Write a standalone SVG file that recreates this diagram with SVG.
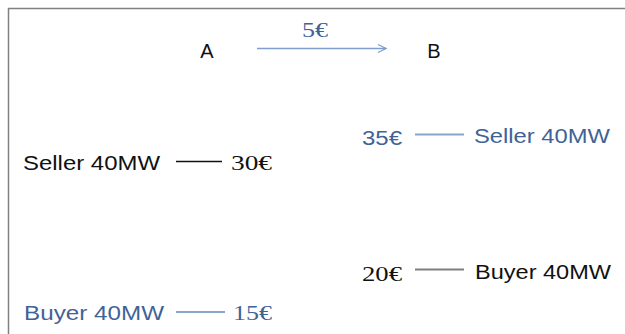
<svg xmlns="http://www.w3.org/2000/svg" width="625" height="334" viewBox="0 0 625 334">
<style>
.s{font-family:"Liberation Sans",Arial,sans-serif;font-size:20px}
.n{font-family:"Liberation Serif","Times New Roman",serif;font-size:22px}
.blk{fill:#111}
.blu{fill:#3f6397}
.lb{stroke:#8aa6cc;stroke-width:2}
</style>
<defs>
<marker id="ah" markerWidth="10" markerHeight="10" refX="9" refY="5" orient="auto" markerUnits="userSpaceOnUse">
<path d="M1,1 L9,5 L1,9" fill="none" stroke="#7f9ecb" stroke-width="1.2"/>
</marker>
</defs>
<rect width="625" height="334" fill="#fff"/>
<path d="M8.5,334 V8.5 H625" fill="none" stroke="#808080" stroke-width="1.5"/>
<g id="nodeA"><text class="s blk" x="207" y="58" text-anchor="middle">A</text></g>
<g id="nodeB"><text class="s blk" x="434" y="58" text-anchor="middle">B</text></g>
<g id="connectors">
<line x1="257" y1="48.5" x2="386" y2="48.5" stroke="#7f9ecb" stroke-width="1.5" marker-end="url(#ah)"/>
<line x1="176" y1="161.5" x2="222" y2="161.5" stroke="#111" stroke-width="1.3"/>
<line x1="415" y1="134.5" x2="464" y2="134.5" class="lb"/>
<line x1="415" y1="269.5" x2="464" y2="269.5" stroke="#7f7f7f" stroke-width="2"/>
<line x1="176" y1="312" x2="225" y2="312" class="lb"/>
</g>
<g id="price-label"><text class="n blu" x="302" y="37" textLength="26" lengthAdjust="spacingAndGlyphs">5€</text></g>
<g id="sellerA">
<text class="s blk" x="23" y="170" textLength="137" lengthAdjust="spacingAndGlyphs">Seller 40MW</text>
<text class="n blk" x="231" y="170" textLength="41" lengthAdjust="spacingAndGlyphs">30€</text>
</g>
<g id="sellerB">
<text class="s blu" x="362" y="145" textLength="40" lengthAdjust="spacingAndGlyphs">35€</text>
<text class="s blu" x="474" y="143" textLength="136" lengthAdjust="spacingAndGlyphs">Seller 40MW</text>
</g>
<g id="buyerB">
<text class="n blk" x="362" y="281" textLength="40" lengthAdjust="spacingAndGlyphs">20€</text>
<text class="s blk" x="475" y="279" textLength="136" lengthAdjust="spacingAndGlyphs">Buyer 40MW</text>
</g>
<g id="buyerA">
<text class="s blu" x="24" y="320" textLength="140" lengthAdjust="spacingAndGlyphs">Buyer 40MW</text>
<text class="n blu" x="233" y="320" textLength="39" lengthAdjust="spacingAndGlyphs">15€</text>
</g>
</svg>
